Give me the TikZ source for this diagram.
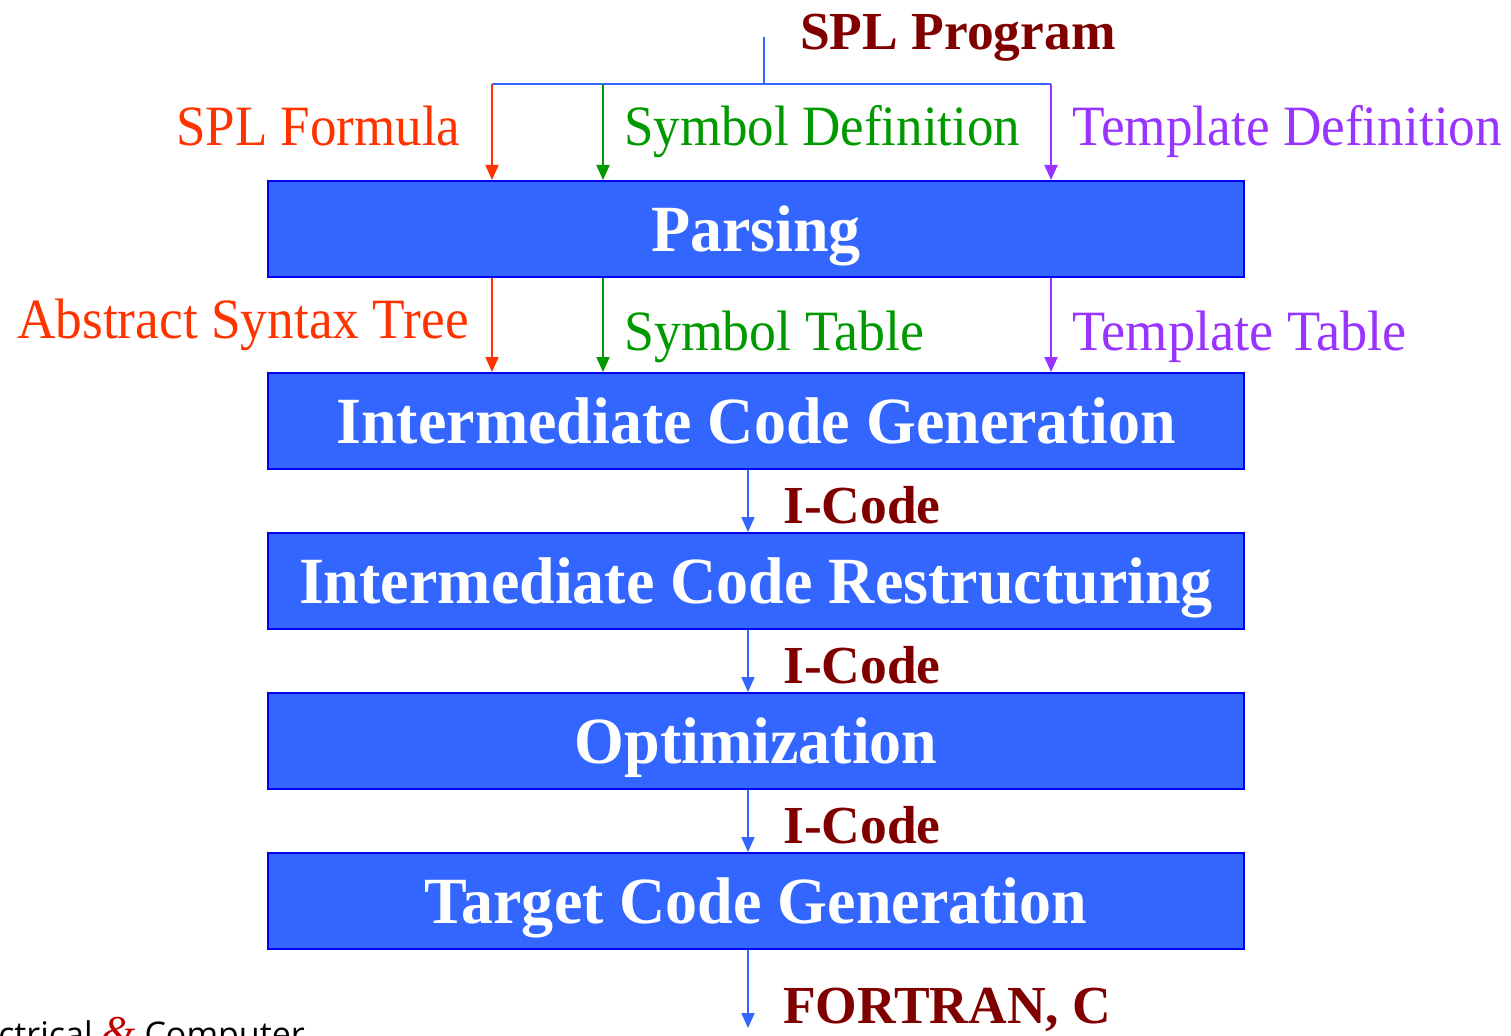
\documentclass[tikz,border=0pt]{standalone}
\usepackage{fontspec}
\setmainfont{Liberation Serif}
\newfontfamily\logofont{Open Sans}
\usetikzlibrary{arrows.meta}
\definecolor{stageblue}{HTML}{3366FF}
\definecolor{stageedge}{HTML}{0000F0}
\definecolor{flowblue}{HTML}{3366FF}
\definecolor{formred}{HTML}{FF3300}
\definecolor{symgreen}{HTML}{009900}
\definecolor{tplpurple}{HTML}{9933FF}
\definecolor{outred}{HTML}{800000}
\definecolor{logored}{HTML}{C00000}
% horizontally condensed text
\newcommand{\narrow}[2]{\scalebox{#1}[1]{#2}}

\begin{document}
\begin{tikzpicture}[x=1pt,y=-1pt,
  stage/.style={draw=stageedge, line width=2pt, fill=stageblue,
    minimum width=976pt, minimum height=96pt, inner sep=0pt,
    text=white, text height=44pt, text depth=0pt,
    font=\fontsize{66}{70}\selectfont\bfseries},
  flow/.style={draw=flowblue, line width=2pt},
  tip/.style={-{Triangle[length=15pt,width=13pt]}},
  datalabel/.style={anchor=base west, inner sep=0pt,
    font=\fontsize{57}{60}\selectfont},
  outlabel/.style={anchor=base west, inner sep=0pt, text=outred,
    font=\fontsize{53.5}{56}\selectfont\bfseries}]

\useasboundingbox (0,0) rectangle (1511,1035);
\clip (0,0) rectangle (1511,1035);

% compiler stages
\node[stage] (parse) at (756,229) {\narrow{0.97}{Parsing}};
\node[stage] (icg)   at (756,421) {\narrow{0.97}{Intermediate Code Generation}};
\node[stage] (icr)   at (756,581) {\narrow{0.97}{Intermediate Code Restructuring}};
\node[stage] (opt)   at (756,741) {\narrow{0.97}{Optimization}};
\node[stage] (tcg)   at (756,901) {\narrow{0.97}{Target Code Generation}};

% input and branch points
\coordinate (src)   at (764,37);
\coordinate (split) at (764,84);
\coordinate (fL) at (492,84);
\coordinate (fS) at (603,84);
\coordinate (fT) at (1051,84);
\coordinate (out) at (748,1028);

\node[outlabel] (prog) at (800,50) {SPL Program};

% program split into its three parts
\draw[flow] (src) -- (split);
\draw[flow] (fL) -- (fT);
\draw[formred, line width=2pt, tip] (fL) -- (fL |- parse.north);
\draw[symgreen, line width=2pt, tip] (fS) -- (fS |- parse.north);
\draw[tplpurple, line width=2pt, tip] (fT) -- (fT |- parse.north);

\node[datalabel, text=formred]   (lformula) at (176,146) {\narrow{0.93}{SPL Formula}};
\node[datalabel, text=symgreen]  (lsymdef)  at (624,146) {\narrow{0.93}{Symbol Definition}};
\node[datalabel, text=tplpurple] (ltpldef)  at (1072,146) {\narrow{0.935}{Template Definition}};

% parser outputs
\draw[formred, line width=2pt, tip] (parse.south -| fL) -- (icg.north -| fL);
\draw[symgreen, line width=2pt, tip] (parse.south -| fS) -- (icg.north -| fS);
\draw[tplpurple, line width=2pt, tip] (parse.south -| fT) -- (icg.north -| fT);

\node[datalabel, text=formred]   (last)  at (17,338)   {\narrow{0.936}{Abstract Syntax Tree}};
\node[datalabel, text=symgreen]  (lsymt) at (624,350)  {\narrow{0.945}{Symbol Table}};
\node[datalabel, text=tplpurple] (ltplt) at (1072,350) {\narrow{0.953}{Template Table}};

% intermediate code flow
\draw[flow, tip] ([xshift=-8pt]icg.south) -- ([xshift=-8pt]icr.north);
\draw[flow, tip] ([xshift=-8pt]icr.south) -- ([xshift=-8pt]opt.north);
\draw[flow, tip] ([xshift=-8pt]opt.south) -- ([xshift=-8pt]tcg.north);
\draw[flow, tip] ([xshift=-8pt]tcg.south) -- (out);

\node[outlabel] (ic1) at (783,523) {I-Code};
\node[outlabel] (ic2) at (783,683) {I-Code};
\node[outlabel] (ic3) at (783,843) {I-Code};
\node[outlabel] (target) at (783,1023) {FORTRAN, C};

% department mark in the corner
\node[anchor=base east, inner sep=0pt, font=\logofont\fontsize{34}{34}\selectfont]
  (logo) at (305,1046) {Electrical {\color{logored}\rmfamily\itshape\fontsize{44}{44}\selectfont\&} Computer};
\end{tikzpicture}
\end{document}
